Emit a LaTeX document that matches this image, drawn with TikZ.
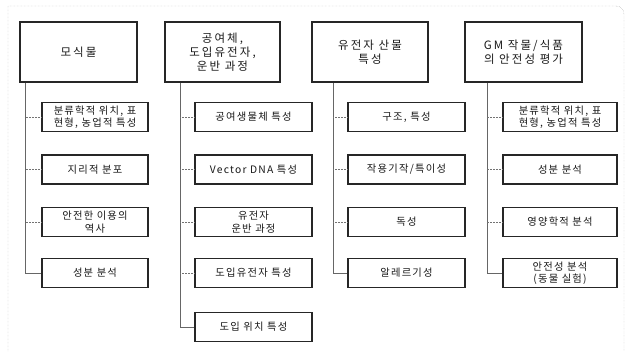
\documentclass[tikz,border=0pt]{standalone}
\usepackage{fontspec}
\setmainfont{Noto Sans CJK KR}
\newfontfamily\topfont{Noto Sans CJK KR}[LetterSpace=18]
\newfontfamily\subfont{Noto Sans CJK KR}[LetterSpace=12]
\begin{document}
\begin{tikzpicture}[x=1pt,y=-1pt,
  topbox/.style={draw=black!85, line width=1.3pt, fill=white, minimum height=60pt, align=center, inner sep=2pt,
    font=\topfont\fontsize{11.5}{13.8}\selectfont, text=black!90},
  subbox/.style={draw=black!85, line width=1.3pt, fill=white, minimum height=29pt, align=center, inner sep=1pt,
    font=\subfont\fontsize{10.3}{12.5}\selectfont, text=black!90},
  conn/.style={draw=black!60, line width=0.5pt},
  hconn/.style={draw=black!55, line width=0.5pt, densely dotted},
  frame/.style={draw=black!40, line width=0.4pt, densely dotted}
]
\useasboundingbox (0,0) rectangle (632,351);
\draw[frame] (8,351) -- (8,6) -- (616,6) to[out=0,in=90] (624,14) -- (624,351);

% top boxes
\node[topbox, minimum width=117pt] (t1) at (78.5,52) {모식물};
\node[topbox, minimum width=115pt] (t2) at (222.5,52) {공여체,\\도입유전자,\\운반 과정};
\node[topbox, minimum width=116pt] (t3) at (370,52) {유전자 산물\\특성};
\node[topbox, minimum width=117pt] (t4) at (523.5,52) {GM 작물/식품\\의 안전성 평가};

% column coordinates
\coordinate (c1) at (25,0);
\coordinate (c2) at (180,0);
\coordinate (c3) at (333,0);
\coordinate (c4) at (487,0);

% column 1
\node[subbox, minimum width=106pt] (a1) at (95,117) {분류학적 위치, 표\\현형, 농업적 특성};
\node[subbox, minimum width=106pt] (a2) at (95,169.5) {지리적 분포};
\node[subbox, minimum width=106pt] (a3) at (95,222) {안전한 이용의\\역사};
\node[subbox, minimum width=106pt] (a4) at (95,273) {성분 분석};

% column 2
\node[subbox, minimum width=117pt] (b1) at (253.5,117) {공여생물체 특성};
\node[subbox, minimum width=117pt] (b2) at (253.5,169.5) {Vector DNA 특성};
\node[subbox, minimum width=117pt] (b3) at (253.5,222) {유전자\\운반 과정};
\node[subbox, minimum width=117pt] (b4) at (253.5,273) {도입유전자 특성};
\node[subbox, minimum width=117pt] (b5) at (253.5,327) {도입 위치 특성};

% column 3
\node[subbox, minimum width=117pt] (d1) at (406.5,117) {구조, 특성};
\node[subbox, minimum width=117pt] (d2) at (406.5,169.5) {작용기작/특이성};
\node[subbox, minimum width=117pt] (d3) at (406.5,222) {독성};
\node[subbox, minimum width=117pt] (d4) at (406.5,273) {알레르기성};

% column 4
\node[subbox, minimum width=114pt] (e1) at (560,117) {분류학적 위치, 표\\현형, 농업적 특성};
\node[subbox, minimum width=114pt] (e2) at (560,169.5) {성분 분석};
\node[subbox, minimum width=114pt] (e3) at (560,222) {영양학적 분석};
\node[subbox, minimum width=114pt] (e4) at (560,273) {안전성 분석\\(동물 실험)};

% connectors
\draw[conn] (t1.south -| c1) |- (a4.west);
\draw[hconn] (a1.west) -- (a1.west -| c1);
\draw[hconn] (a2.west) -- (a2.west -| c1);
\draw[hconn] (a3.west) -- (a3.west -| c1);

\draw[conn] (t2.south -| c2) |- (b5.west);
\draw[hconn] (b1.west) -- (b1.west -| c2);
\draw[hconn] (b2.west) -- (b2.west -| c2);
\draw[hconn] (b3.west) -- (b3.west -| c2);
\draw[hconn] (b4.west) -- (b4.west -| c2);

\draw[conn] (t3.south -| c3) |- (d4.west);
\draw[hconn] (d1.west) -- (d1.west -| c3);
\draw[hconn] (d2.west) -- (d2.west -| c3);
\draw[hconn] (d3.west) -- (d3.west -| c3);

\draw[conn] (t4.south -| c4) |- (e4.west);
\draw[hconn] (e1.west) -- (e1.west -| c4);
\draw[hconn] (e2.west) -- (e2.west -| c4);
\draw[hconn] (e3.west) -- (e3.west -| c4);
\end{tikzpicture}
\end{document}
